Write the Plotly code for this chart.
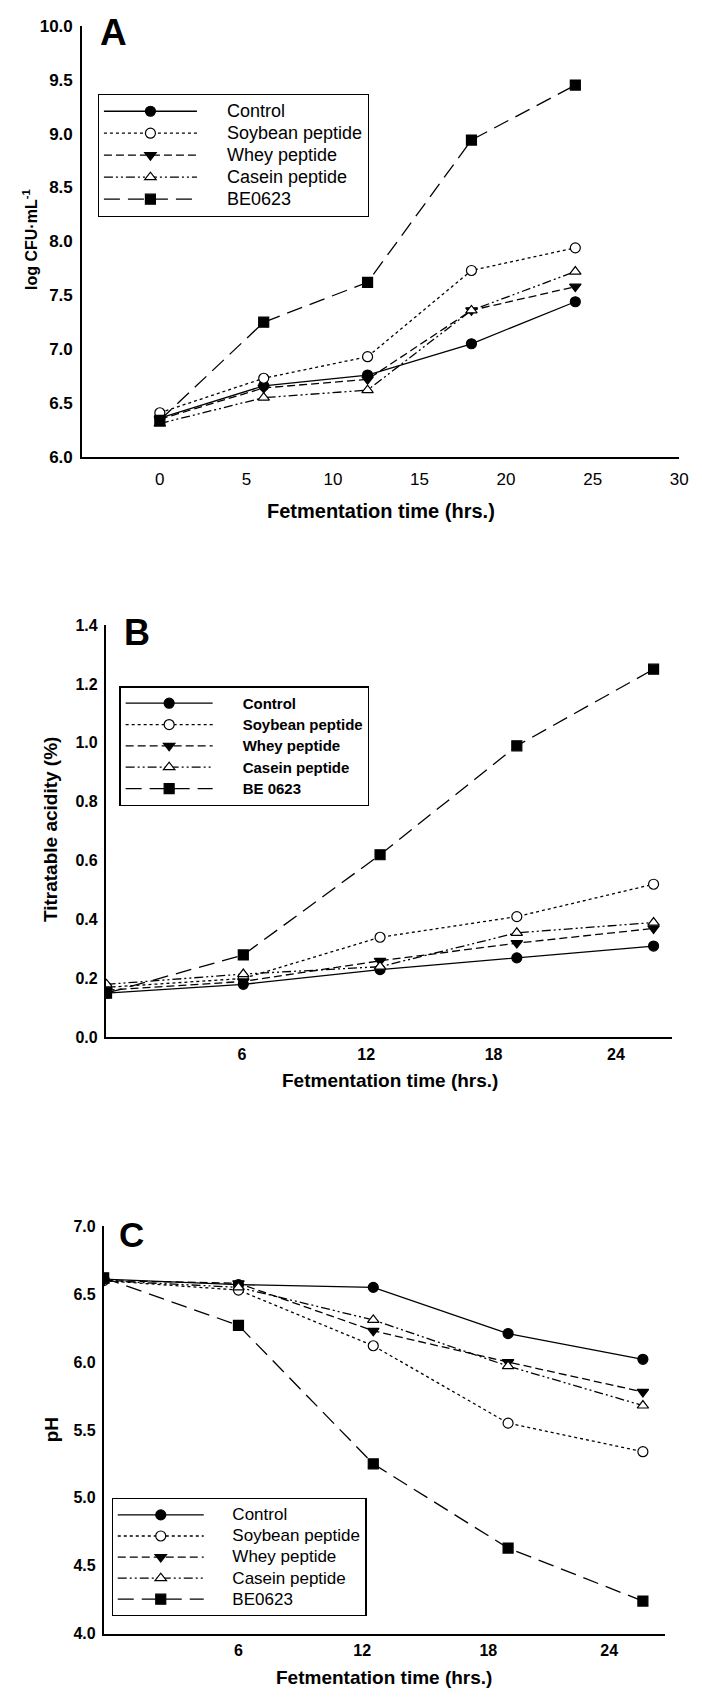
import plotly.graph_objects as go

W, H = 702, 1701

# ---------------- data ----------------
series_names = ["Control", "Soybean peptide", "Whey peptide", "Casein peptide", "BE0623"]
series_names_b = ["Control", "Soybean peptide", "Whey peptide", "Casein peptide", "BE 0623"]

time_h = [0, 6, 12, 18, 24]

# Panel A: log CFU/mL
cfu_control = [6.36, 6.66, 6.76, 7.05, 7.44]
cfu_soybean = [6.41, 6.73, 6.93, 7.73, 7.94]
cfu_whey = [6.35, 6.64, 6.72, 7.36, 7.58]
cfu_casein = [6.31, 6.55, 6.62, 7.36, 7.72]
cfu_be0623 = [6.34, 7.25, 7.62, 8.94, 9.45]

# Panel B: titratable acidity (%)
ta_control = [0.15, 0.18, 0.23, 0.27, 0.31]
ta_soybean = [0.17, 0.20, 0.34, 0.41, 0.52]
ta_whey = [0.16, 0.19, 0.26, 0.32, 0.37]
ta_casein = [0.18, 0.215, 0.24, 0.355, 0.39]
ta_be0623 = [0.15, 0.28, 0.62, 0.99, 1.25]

# Panel C: pH
ph_control = [6.61, 6.57, 6.55, 6.21, 6.02]
ph_soybean = [6.60, 6.53, 6.12, 5.55, 5.34]
ph_whey = [6.60, 6.58, 6.23, 6.00, 5.78]
ph_casein = [6.60, 6.55, 6.31, 5.97, 5.68]
ph_be0623 = [6.62, 6.27, 5.25, 4.63, 4.24]

# tick labels
a_xticks = [0, 5, 10, 15, 20, 25, 30]
bc_xtick_text = ["6", "12", "18", "24"]
b_xtick_pos = [5.94, 11.39, 16.98, 22.35]
c_xtick_pos = [6.0, 11.51, 17.12, 22.5]

# ---------------- styling ----------------
ARIAL = "Liberation Sans, Arial, sans-serif"

styles = [
    dict(symbol="circle", fill="black", dash="solid"),
    dict(symbol="circle", fill="white", dash="dot"),
    dict(symbol="triangle-down", fill="black", dash="8px,4px"),
    dict(symbol="triangle-up", fill="white", dash="9px,3px,2px,3px,2px,3px"),
    dict(symbol="square", fill="black", dash="16px,8px"),
]


def px_x(x):
    return x / W


def px_y(y):
    return 1 - y / H


fig = go.Figure()

panels = [
    dict(xa="x", ya="y", legend="legend",
         ys=[cfu_control, cfu_soybean, cfu_whey, cfu_casein, cfu_be0623],
         names=series_names, bold=False, lsize=18, pad=5),
    dict(xa="x2", ya="y2", legend="legend2",
         ys=[ta_control, ta_soybean, ta_whey, ta_casein, ta_be0623],
         names=series_names_b, bold=True, lsize=15, pad=6),
    dict(xa="x3", ya="y3", legend="legend3",
         ys=[ph_control, ph_soybean, ph_whey, ph_casein, ph_be0623],
         names=series_names, bold=False, lsize=17, pad=5),
]

for p in panels:
    for name, yv, st in zip(p["names"], p["ys"], styles):
        label = ('<span style="font-size:%dpx">' % p["lsize"]) + "&nbsp;" * p["pad"] + name + "</span>"
        if p["bold"]:
            label = "<b>" + label + "</b>"
        fig.add_trace(go.Scatter(
            x=time_h, y=yv, name=label, mode="lines+markers",
            xaxis=p["xa"], yaxis=p["ya"], legend=p["legend"],
            line=dict(color="black", width=1.3, dash=st["dash"]),
            marker=dict(symbol=st["symbol"], size=10, color=st["fill"],
                        line=dict(color="black", width=1.2)),
        ))

axis_common = dict(showgrid=False, zeroline=False, showline=True, linecolor="black",
                   ticks="", mirror=False)

fig.update_layout(
    width=W, height=H,
    margin=dict(l=0, r=0, t=0, b=0),
    paper_bgcolor="white", plot_bgcolor="white",
    showlegend=True,
    xaxis=dict(**axis_common, domain=[px_x(83), px_x(688)], range=[-4.5, 30],
               tickvals=a_xticks, linewidth=2.2, anchor="y",
               tickfont=dict(family=ARIAL, size=17, color="black"), ticklabelstandoff=6),
    yaxis=dict(**axis_common, domain=[px_y(453), px_y(17)], range=[6, 10], dtick=0.5,
               tickformat=".1f", linewidth=1.5, anchor="x",
               tickfont=dict(family=ARIAL, size=17, color="black", weight="bold"),
               ticklabelstandoff=4),
    xaxis2=dict(**axis_common, domain=[px_x(107), px_x(681)], range=[-0.04, 24.82],
                tickvals=b_xtick_pos, ticktext=bc_xtick_text, linewidth=2.2, anchor="y2",
                tickfont=dict(family=ARIAL, size=16, color="black", weight="bold"),
                ticklabelstandoff=1),
    yaxis2=dict(**axis_common, domain=[px_y(1040), px_y(623)], range=[0, 1.4], dtick=0.2,
                tickformat=".1f", linewidth=1.5, anchor="x2",
                tickfont=dict(family=ARIAL, size=16, color="black", weight="bold"),
                ticklabelstandoff=3),
    xaxis3=dict(**axis_common, domain=[px_x(105), px_x(674)], range=[0, 25.0],
                tickvals=c_xtick_pos, ticktext=bc_xtick_text, linewidth=2.2, anchor="y3",
                tickfont=dict(family=ARIAL, size=16, color="black", weight="bold"),
                ticklabelstandoff=1),
    yaxis3=dict(**axis_common, domain=[px_y(1643), px_y(1231)], range=[4, 7], dtick=0.5,
                tickformat=".1f", linewidth=1.5, anchor="x3",
                tickfont=dict(family=ARIAL, size=16, color="black", weight="bold"),
                ticklabelstandoff=3),
    legend=dict(x=px_x(99), y=px_y(86), xanchor="left", yanchor="top",
                bordercolor="black", borderwidth=1.2, bgcolor="white",
                itemwidth=93, font=dict(family=ARIAL, size=14.6, color="black")),
    legend2=dict(x=px_x(121), y=px_y(685), xanchor="left", yanchor="top",
                 bordercolor="black", borderwidth=1.2, bgcolor="white",
                 itemwidth=87, font=dict(family=ARIAL, size=14.1, color="black")),
    legend3=dict(x=px_x(113), y=px_y(1506), xanchor="left", yanchor="top",
                 bordercolor="black", borderwidth=1.2, bgcolor="white",
                 itemwidth=86, font=dict(family=ARIAL, size=13.9, color="black")),
)

annotations = [
    # panel letters
    dict(text="<b>A</b>", x=px_x(99), y=px_y(24), xanchor="left", yanchor="middle",
         font=dict(family=ARIAL, size=37, color="black")),
    dict(text="<b>B</b>", x=px_x(124), y=px_y(631), xanchor="left", yanchor="middle",
         font=dict(family=ARIAL, size=36, color="black")),
    dict(text="<b>C</b>", x=px_x(119), y=px_y(1239), xanchor="left", yanchor="middle",
         font=dict(family=ARIAL, size=35, color="black")),
    # x titles
    dict(text="<b>Fetmentation time (hrs.)</b>", x=px_x(386), y=px_y(508),
         xanchor="center", yanchor="middle", font=dict(family=ARIAL, size=20, color="black")),
    dict(text="<b>Fetmentation time (hrs.)</b>", x=px_x(395), y=px_y(1084),
         xanchor="center", yanchor="middle", font=dict(family=ARIAL, size=19, color="black")),
    dict(text="<b>Fetmentation time (hrs.)</b>", x=px_x(389), y=px_y(1687),
         xanchor="center", yanchor="middle", font=dict(family=ARIAL, size=19, color="black")),
    # y titles
    dict(text="<b>log CFU·mL<sup>-1</sup></b>", x=px_x(31), y=px_y(233), textangle=-90,
         xanchor="center", yanchor="middle", font=dict(family=ARIAL, size=16, color="black")),
    dict(text="<b>Titratable acidity (%)</b>", x=px_x(51), y=px_y(830), textangle=-90,
         xanchor="center", yanchor="middle", font=dict(family=ARIAL, size=19, color="black")),
    dict(text="<b>pH</b>", x=px_x(53), y=px_y(1437), textangle=-90,
         xanchor="center", yanchor="middle", font=dict(family=ARIAL, size=19, color="black")),
]
for a in annotations:
    a.update(xref="paper", yref="paper", showarrow=False)
fig.update_layout(annotations=annotations)

fig.write_html("out.html")
